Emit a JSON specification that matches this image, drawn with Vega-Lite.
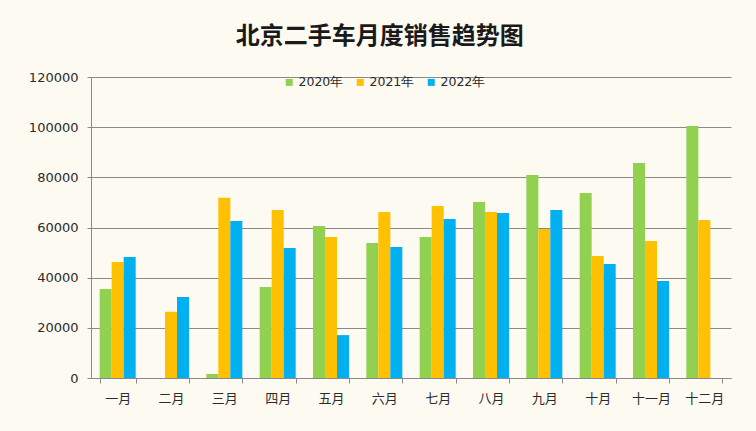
{
  "$schema": "https://vega.github.io/schema/vega-lite/v6.json",
  "width": 640,
  "height": 301,
  "autosize": {"type": "none"},
  "padding": {"left": 91, "top": 77, "right": 25, "bottom": 53},
  "background": "#fdfaf2",
  "title": {
    "text": "北京二手车月度销售趋势图",
    "font": "Noto Sans CJK SC",
    "fontSize": 24,
    "fontWeight": "bold",
    "color": "#1a1a1a",
    "anchor": "middle",
    "frame": "bounds",
    "offset": 22
  },
  "config": {
    "view": {"stroke": null},
    "axis": {"domainColor": "#8a8a8a", "tickColor": "#8a8a8a", "labelColor": "#2b2b2b"},
    "legend": {"labelColor": "#2b2b2b"}
  },
  "data": {
    "values": [
      {"month": "一月", "series": "2020年", "sales": 35500},
      {"month": "一月", "series": "2021年", "sales": 46200},
      {"month": "一月", "series": "2022年", "sales": 48200},
      {"month": "二月", "series": "2021年", "sales": 26400},
      {"month": "二月", "series": "2022年", "sales": 32300},
      {"month": "三月", "series": "2020年", "sales": 1600},
      {"month": "三月", "series": "2021年", "sales": 71900},
      {"month": "三月", "series": "2022年", "sales": 62600},
      {"month": "四月", "series": "2020年", "sales": 36300},
      {"month": "四月", "series": "2021年", "sales": 67000},
      {"month": "四月", "series": "2022年", "sales": 51800},
      {"month": "五月", "series": "2020年", "sales": 60600},
      {"month": "五月", "series": "2021年", "sales": 56200},
      {"month": "五月", "series": "2022年", "sales": 17100},
      {"month": "六月", "series": "2020年", "sales": 53800},
      {"month": "六月", "series": "2021年", "sales": 66200},
      {"month": "六月", "series": "2022年", "sales": 52200},
      {"month": "七月", "series": "2020年", "sales": 56200},
      {"month": "七月", "series": "2021年", "sales": 68600},
      {"month": "七月", "series": "2022年", "sales": 63400},
      {"month": "八月", "series": "2020年", "sales": 70200},
      {"month": "八月", "series": "2021年", "sales": 66200},
      {"month": "八月", "series": "2022年", "sales": 65800},
      {"month": "九月", "series": "2020年", "sales": 80900},
      {"month": "九月", "series": "2021年", "sales": 59400},
      {"month": "九月", "series": "2022年", "sales": 67000},
      {"month": "十月", "series": "2020年", "sales": 73800},
      {"month": "十月", "series": "2021年", "sales": 48600},
      {"month": "十月", "series": "2022年", "sales": 45400},
      {"month": "十一月", "series": "2020年", "sales": 85700},
      {"month": "十一月", "series": "2021年", "sales": 54600},
      {"month": "十一月", "series": "2022年", "sales": 38700},
      {"month": "十二月", "series": "2020年", "sales": 100500},
      {"month": "十二月", "series": "2021年", "sales": 63000}
    ]
  },
  "mark": {"type": "bar"},
  "encoding": {
    "x": {
      "field": "month",
      "type": "nominal",
      "sort": ["一月", "二月", "三月", "四月", "五月", "六月", "七月", "八月", "九月", "十月", "十一月", "十二月"],
      "scale": {"paddingInner": 0.325, "paddingOuter": 0.1625},
      "axis": {
        "title": null,
        "labelAngle": 0,
        "labelFont": "Noto Sans CJK SC",
        "labelFontSize": 13,
        "labelPadding": 9,
        "tickBand": "extent",
        "tickSize": 5,
        "grid": false
      }
    },
    "xOffset": {
      "field": "series",
      "type": "nominal",
      "sort": ["2020年", "2021年", "2022年"],
      "scale": {"paddingInner": 0, "paddingOuter": 0}
    },
    "y": {
      "field": "sales",
      "type": "quantitative",
      "scale": {"domain": [0, 120000], "nice": false},
      "axis": {
        "title": null,
        "values": [0, 20000, 40000, 60000, 80000, 100000, 120000],
        "format": "d",
        "labelFont": "DejaVu Sans",
        "labelFontSize": 13,
        "labelPadding": 9,
        "tickSize": 4,
        "grid": true,
        "gridColor": "#8a8a8a",
        "gridWidth": 1
      }
    },
    "color": {
      "field": "series",
      "type": "nominal",
      "scale": {"domain": ["2020年", "2021年", "2022年"], "range": ["#92d050", "#ffc000", "#00b0f0"]},
      "legend": {
        "title": null,
        "orient": "none",
        "direction": "horizontal",
        "legendX": 192,
        "legendY": -1,
        "symbolType": "square",
        "symbolSize": 49,
        "symbolStrokeWidth": 0,
        "labelFont": "DejaVu Sans",
        "labelFontSize": 12.5,
        "labelOffset": 3,
        "columnPadding": 10
      }
    }
  }
}
